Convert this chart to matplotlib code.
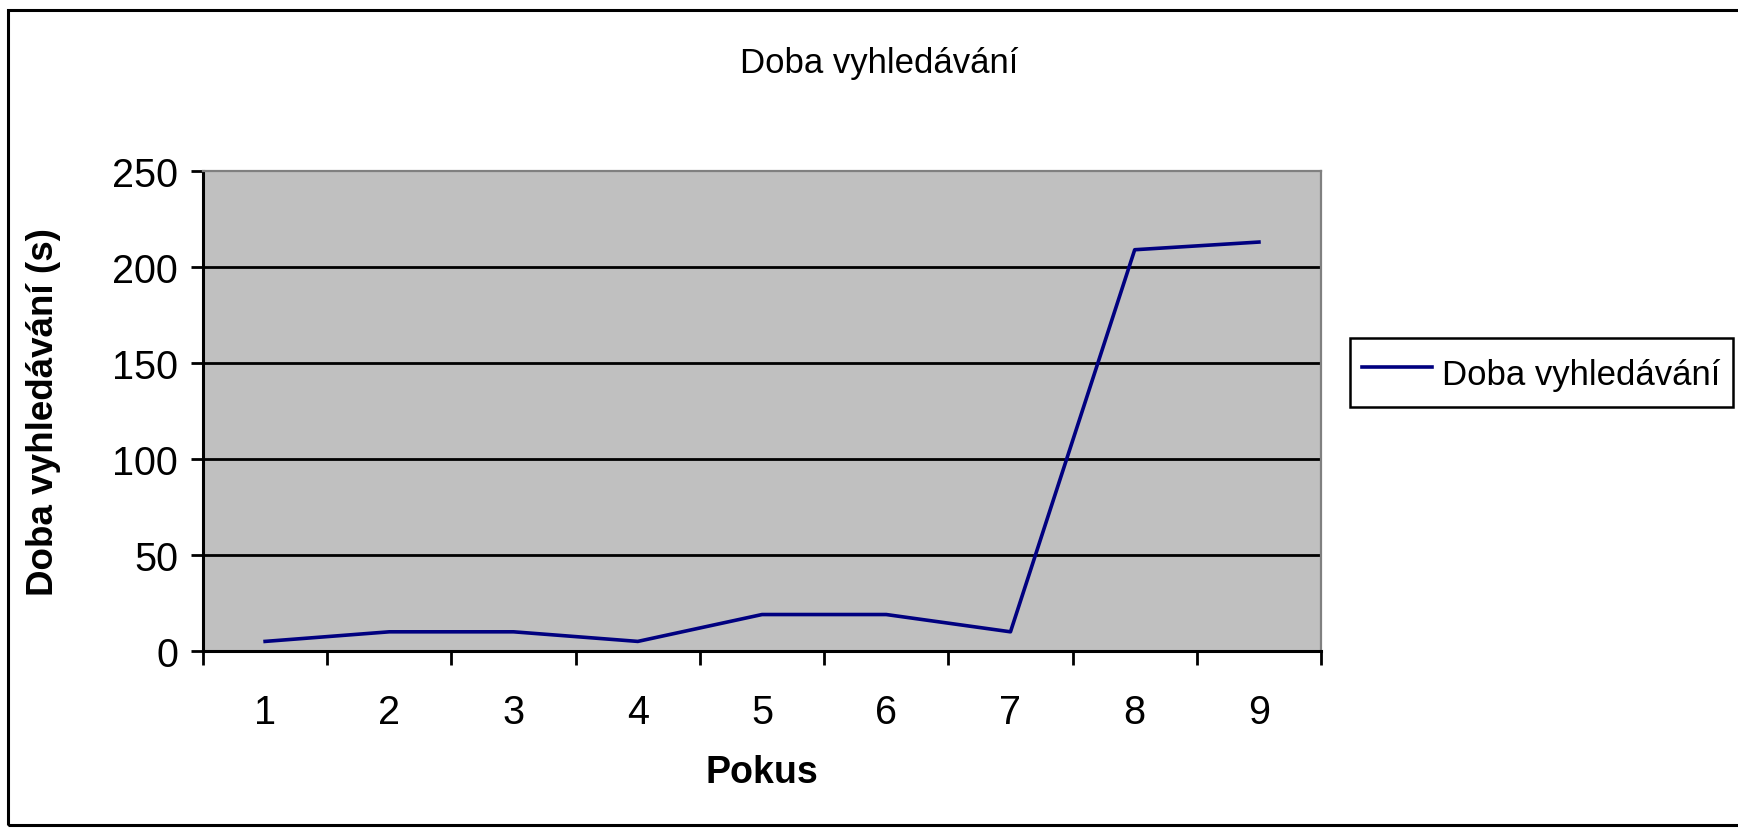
import numpy as np
import matplotlib
matplotlib.use("Agg")
import matplotlib.pyplot as plt
from matplotlib.patches import Rectangle

plt.rcParams['font.family'] = ['Liberation Sans', 'DejaVu Sans']

pokus = [1, 2, 3, 4, 5, 6, 7, 8, 9]
doba = [5, 10, 10, 5, 19, 19, 10, 209, 213]
y_ticks = [0, 50, 100, 150, 200, 250]

fig = plt.figure(figsize=(17.38, 8.29), dpi=100)
ax = fig.add_axes([0.1168, 0.2135, 0.6433, 0.579])

# outer chart border
fig.patches.append(Rectangle((8 / 1738, 3 / 829), 1.0, 815 / 829,
                             transform=fig.transFigure, fill=False,
                             edgecolor='black', linewidth=2.2))

ax.set_facecolor('#C0C0C0')
ax.plot(pokus, doba, color='#000080', linewidth=2.6, label='Doba vyhledávání')

ax.set_xlim(0.5, 9.5)
ax.set_ylim(0, 250)
ax.set_yticks(y_ticks)
ax.set_xticks(np.arange(0.5, 10.5, 1.0))
ax.set_xticklabels([])
ax.set_xticks(pokus, minor=True)
ax.set_xticklabels([str(p) for p in pokus], minor=True)

for y in y_ticks[1:-1]:
    ax.axhline(y, color='black', linewidth=2.0, zorder=1)

ax.tick_params(axis='x', which='major', direction='out', length=10, width=2)
ax.tick_params(axis='x', which='minor', length=0, pad=30, labelsize=28.5)
ax.tick_params(axis='y', direction='out', length=9, width=2, pad=9, labelsize=28.5)

for s in ['left', 'bottom']:
    ax.spines[s].set_linewidth(2.2)
    ax.spines[s].set_color('black')
for s in ['top', 'right']:
    ax.spines[s].set_linewidth(1.6)
    ax.spines[s].set_color('#808080')

fig.text(0.5058, 0.924, 'Doba vyhledávání', ha='center', va='center', fontsize=25)
fig.text(0.0253, 0.503, 'Doba vyhledávání (s)', ha='center', va='center',
         rotation=90, fontsize=26.5, fontweight='bold')
fig.text(0.4385, 0.0676, 'Pokus', ha='center', va='center', fontsize=27, fontweight='bold')

leg = fig.legend(loc='upper left', bbox_to_anchor=(0.7768, 0.5911), fontsize=25,
                 frameon=True, fancybox=False, edgecolor='black', framealpha=1,
                 handlelength=2.0, handletextpad=0.3, handleheight=1.6,
                 borderpad=0.35, borderaxespad=0)
leg.get_frame().set_linewidth(1.8)

fig.savefig('out.png', dpi=100)
